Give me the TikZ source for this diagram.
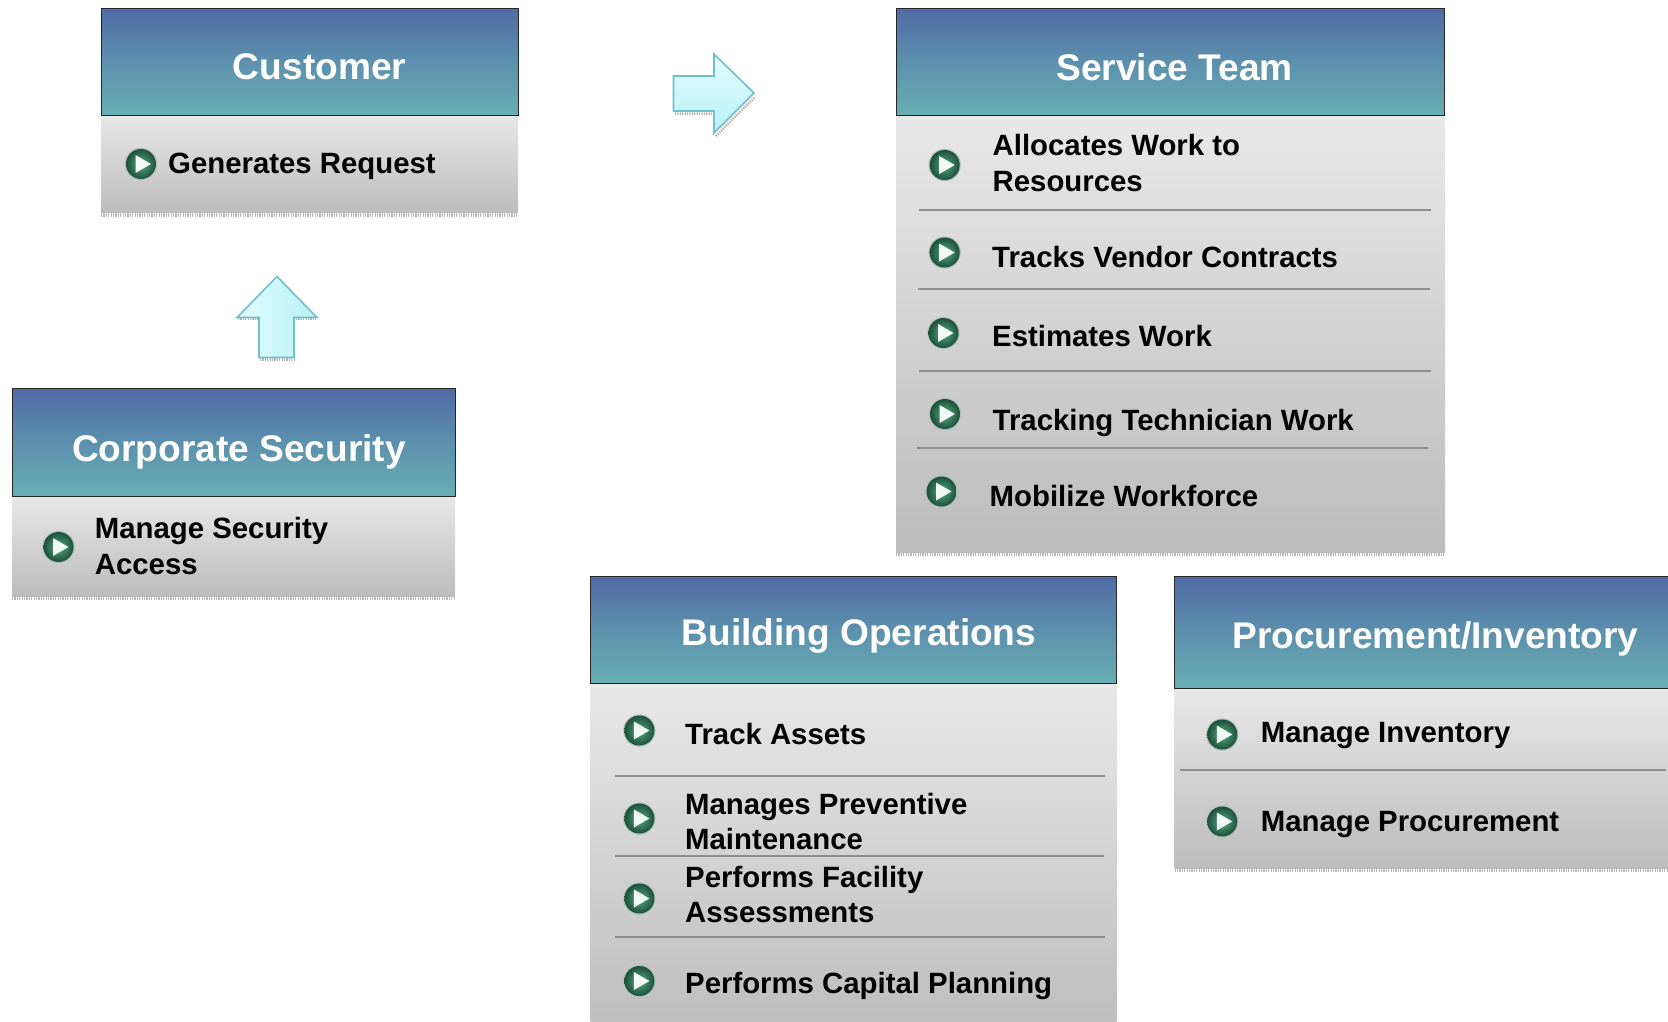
\documentclass[tikz,border=0pt]{standalone}
\usepackage{fontspec}
\setmainfont{Liberation Sans}
\tikzset{
  x=1pt,y=-1pt,
  headbox/.style={draw=black!85,line width=1pt,top color=headtop,bottom color=headbot,middle color=headmid},
  bodybox/.style={top color=bodytop,bottom color=bodybot},
  fringe/.style={draw=gray!55,line width=4pt,dash pattern=on 1.2pt off 1.2pt},
  rule/.style={draw=rulegray,line width=2pt},
  title/.style={anchor=base,text=white,font=\fontsize{37.1}{40}\selectfont\bfseries,inner sep=0pt},
  item/.style={anchor=base west,text=black,font=\fontsize{29.35}{34}\selectfont\bfseries,inner sep=0pt},
  bigarrow/.style={draw=arrowline,line width=1.6pt,line join=miter},
  playicon/.pic={
    \fill[white!65!icondark] (0,0) circle (16.2);
    \shade[inner color=iconmid,outer color=icondark] (0,0) circle (15);
    \fill[white!92!iconmid] (-5.5,-9) -- (10,0) -- (-5.5,9) -- cycle;
  }
}
\definecolor{headtop}{HTML}{506AA5}
\definecolor{headmid}{HTML}{5C90AD}
\definecolor{headbot}{HTML}{68AEB3}
\definecolor{bodytop}{HTML}{E8E8E8}
\definecolor{bodybot}{HTML}{BCBCBC}
\definecolor{rulegray}{HTML}{8E8E8E}
\definecolor{arrowline}{HTML}{6FC0C8}
\definecolor{arrowtop}{HTML}{E2FDFF}
\definecolor{arrowbot}{HTML}{B8F1F6}
\definecolor{iconmid}{HTML}{55AD82}
\definecolor{icondark}{HTML}{1D4F3B}
\begin{document}
\begin{tikzpicture}
\useasboundingbox (0,0) rectangle (1668,1021);
% panels
\path[bodybox] (101,115) rectangle (518,212.5);
\draw[fringe] (101,214.5) -- (518,214.5);
\draw[headbox] (101,8) rectangle (518.5,115);
\node[title] (t1) at (319.5,79) {Customer};

\path[bodybox] (12,496) rectangle (455,596);
\draw[fringe] (12,597.5) -- (455,597.5);
\draw[headbox] (12,388.5) rectangle (455.5,496);
\node[title] (t2) at (239,461) {Corporate Security};

\path[bodybox] (896,115) rectangle (1445,552);
\draw[fringe] (896,553.5) -- (1445,553.5);
\draw[headbox] (896,8) rectangle (1444.5,115);
\node[title] (t3) at (1174.5,80) {Service Team};

\path[bodybox] (590.5,683) rectangle (1116.5,1040);
\draw[headbox] (590.5,576) rectangle (1116.5,683);
\node[title] (t4) at (859,645.5) {Building Operations};

\path[bodybox] (1174.5,688) rectangle (1690,868);
\draw[fringe] (1174.5,869.5) -- (1690,869.5);
\draw[headbox] (1174.5,576) rectangle (1690,688);
\node[title] (t5) at (1435.5,648) {Procurement/Inventory};

% rules
\draw[rule] (919,209.6) -- (1431,209.6);
\draw[rule] (918,288.8) -- (1430,288.8);
\draw[rule] (919,370.5) -- (1431,370.5);
\draw[rule] (917,447.7) -- (1428,447.7);
\draw[rule] (615,775.5) -- (1105,775.5);
\draw[rule] (615,855.6) -- (1104,855.6);
\draw[rule] (615,936.5) -- (1105,936.5);
\draw[rule] (1180,769.5) -- (1666,769.5);

% items
\pic at (141,164) {playicon};
\node[item] (a1) at (168,173) {Generates Request};
\pic at (58.5,547) {playicon};
\node[item] (b1) at (94.7,538.8) {Manage Security};
\node[item] (b2) at (94.7,574.8) {Access};

\pic at (944.7,165) {playicon};
\node[item] (c1) at (992.5,155.3) {Allocates Work to};
\node[item] (c2) at (992.5,191.5) {Resources};
\pic at (944.7,252.5) {playicon};
\node[item] (c3) at (992,267) {Tracks Vendor Contracts};
\pic at (943.5,333) {playicon};
\node[item] (c4) at (992,346.8) {Estimates Work};
\pic at (945,414) {playicon};
\node[item] (c5) at (992.5,430) {Tracking Technician Work};
\pic at (941.5,491.5) {playicon};
\node[item] (c6) at (989.5,506.6) {Mobilize Workforce};

\pic at (639.4,730.5) {playicon};
\node[item] (d1) at (685,744.3) {Track Assets};
\pic at (639.4,818.5) {playicon};
\node[item] (d2) at (685,814.8) {Manages Preventive};
\node[item] (d3) at (685,849) {Maintenance};
\pic at (639.4,898.5) {playicon};
\node[item] (d4) at (685,887) {Performs Facility};
\node[item] (d5) at (685,922.8) {Assessments};
\pic at (639.4,981) {playicon};
\node[item] (d6) at (685,993.5) {Performs Capital Planning};

\pic at (1222.3,734.5) {playicon};
\node[item] (e1) at (1260.6,742.3) {Manage Inventory};
\pic at (1222.3,821.5) {playicon};
\node[item] (e2) at (1260.6,831.6) {Manage Procurement};

% block arrows
\draw[fringe,draw=gray!60,line width=2.5pt] (238,319) -- (258,319) (296,319) -- (316,319) (260,359.5) -- (294,359.5);
\draw[bigarrow,left color=arrowtop,right color=arrowbot] (277,276.5) -- (317,317.5) -- (294,317.5) -- (294,357.5) -- (259,357.5) -- (259,317.5) -- (237,317.5) -- cycle;
\draw[fringe,draw=gray!60,line width=2.5pt] (675,113.5) -- (712,113.5) (716,136) -- (755,97);
\draw[bigarrow,top color=arrowtop,bottom color=arrowbot] (673.5,76) -- (714,76) -- (714,54) -- (754,93) -- (714,133) -- (714,111) -- (673.5,111) -- cycle;
\end{tikzpicture}
\end{document}
